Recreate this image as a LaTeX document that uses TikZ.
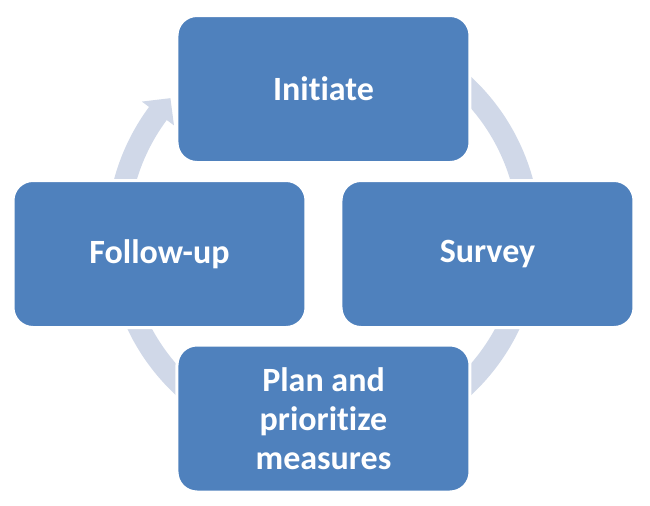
\documentclass[tikz,border=0pt]{standalone}
\usepackage{fontspec}
\setmainfont{Carlito}[Ligatures=NoCommon]
\usetikzlibrary{positioning}
\definecolor{boxblue}{HTML}{4F81BD}
\definecolor{ringblue}{HTML}{D0D8E8}

\begin{document}
\begin{tikzpicture}[x=0.5pt,y=0.5pt,
        stage/.style = {draw=white, line width=1.5pt, fill=boxblue, rounded corners=10pt,
            minimum width=146.5pt, minimum height=73.5pt, inner sep=2pt,
            text=white, align=center, font=\bfseries\fontsize{17}{19.5}\selectfont},]
        \useasboundingbox (0,0) rectangle (650,505);
        \coordinate (hub) at (323.5,269);

        \fill[ringblue, shift={(hub)}] (110:217) arc[start angle=110, end angle=-216.5, radius=217]
            -- (-216.5:226) -- (-222:206) -- (-216.5:186)
            -- (-216.5:195) arc[start angle=-216.5, end angle=110, radius=195] -- cycle;

        \node[stage] (initiate) at (323.5,416) {Initiate};
        \node[stage] (survey) at (487.5,251) {Survey};
        \node[stage] (plan) at (323.5,86.5) {Plan and\\prioritize\\measures};
        \node[stage] (followup) at (159.5,251) {Follow-up};
    \end{tikzpicture}
\end{document}
